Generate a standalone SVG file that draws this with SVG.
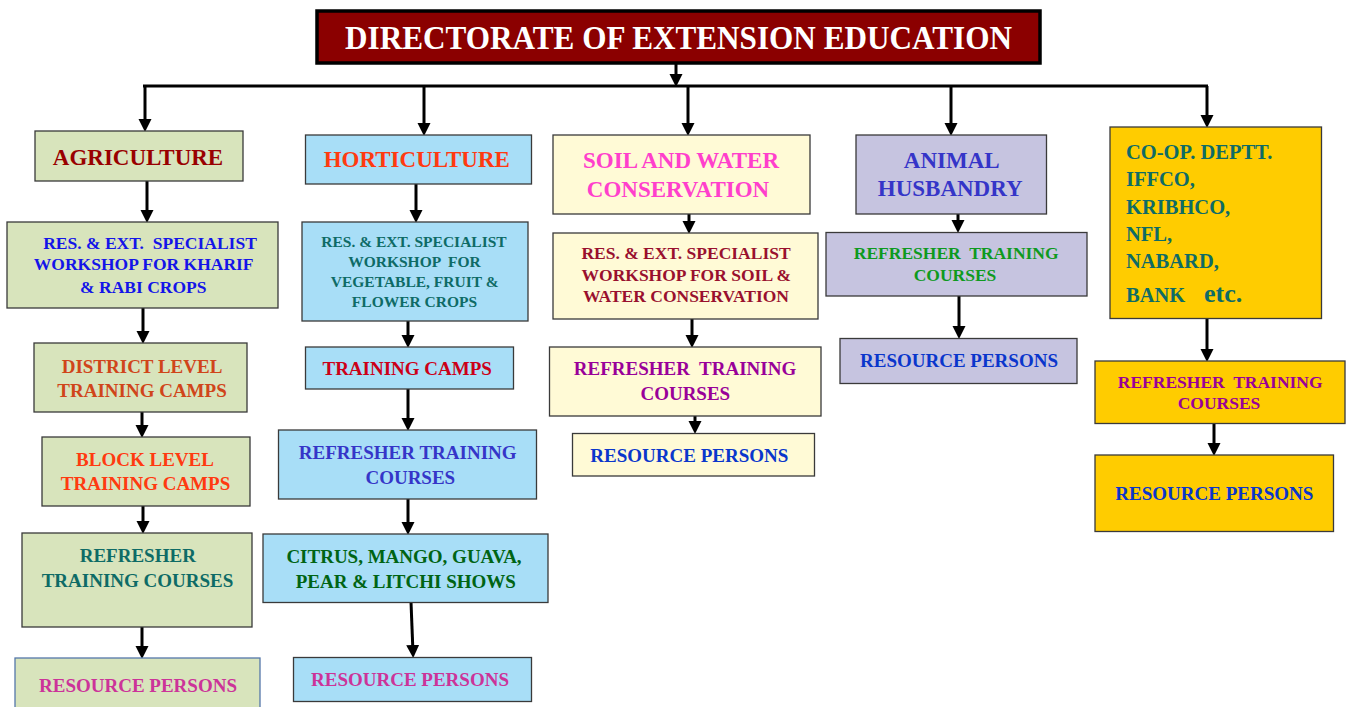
<svg xmlns="http://www.w3.org/2000/svg" width="1346" height="707" viewBox="0 0 1346 707">
  <defs>
    <marker id="arrow" markerUnits="userSpaceOnUse" markerWidth="14" markerHeight="14" refX="8" refY="6.5" orient="auto">
      <path d="M0,0 L13,6.5 L0,13 z" fill="#000"/>
    </marker>
    <style>
      text { font-family: "Liberation Serif", "Times New Roman", serif; font-weight: bold; text-anchor: middle; white-space: pre; }
      .box { stroke: #3a3a3a; stroke-width: 1.3; }
      .agri { fill: #D8E4BC; }
      .horti { fill: #A8DEF7; }
      .soil { fill: #FFFAD6; }
      .animal { fill: #C6C4E0; }
      .coop { fill: #FFCC00; }
      .conn path { stroke: #000; stroke-width: 3; fill: none; }
      .conn .arr { marker-end: url(#arrow); }
      .t23 { font-size: 23px; }
      .t19 { font-size: 19px; }
      .t17 { font-size: 17.5px; }
      .t15 { font-size: 15.5px; }
      .t20 { font-size: 20.5px; text-anchor: start; }
    </style>
  </defs>

  <rect width="1346" height="707" fill="#fff"/>

  <!-- connectors -->
  <g id="connectors" class="conn">
    <path d="M143,86 H1208"/>
    <path class="arr" d="M676,63 V82"/>
    <!-- branch drops -->
    <path class="arr" d="M145,86 V127"/>
    <path class="arr" d="M424,86 V131"/>
    <path class="arr" d="M688,86 V131"/>
    <path class="arr" d="M951,86 V131"/>
    <path class="arr" d="M1207,86 V123"/>
    <!-- agriculture column -->
    <path class="arr" d="M147,181 V218"/>
    <path class="arr" d="M143,308 V339"/>
    <path class="arr" d="M142,412 V433"/>
    <path class="arr" d="M143,506 V529"/>
    <path class="arr" d="M142,627 V654"/>
    <!-- horticulture column -->
    <path class="arr" d="M416,184 V218"/>
    <path class="arr" d="M408,321 V343"/>
    <path class="arr" d="M408,389 V426"/>
    <path class="arr" d="M408,499 V530"/>
    <path class="arr" d="M411,602 L413,653"/>
    <!-- soil and water column -->
    <path class="arr" d="M689,214 V229"/>
    <path class="arr" d="M692,319 V343"/>
    <path class="arr" d="M695,416 V429"/>
    <!-- animal husbandry column -->
    <path class="arr" d="M958,214 V228"/>
    <path class="arr" d="M959,296 V334"/>
    <!-- co-op column -->
    <path class="arr" d="M1207,318 V357"/>
    <path class="arr" d="M1214,423 V451"/>
  </g>

  <!-- head office -->
  <g id="directorate">
    <rect x="317" y="11" width="723" height="52" fill="#8B0000" stroke="#000" stroke-width="3.5"/>
    <text x="678.5" y="48.5" font-size="33" fill="#fff" textLength="667" lengthAdjust="spacingAndGlyphs">DIRECTORATE OF EXTENSION EDUCATION</text>
  </g>

  <!-- agriculture -->
  <g id="agriculture">
    <rect class="box agri" x="35" y="131" width="208" height="50"/>
    <text class="t23" x="138" y="164.5" fill="#990000">AGRICULTURE</text>
  </g>
  <g id="agri-workshop">
    <rect class="box agri" x="7" y="222" width="271" height="86"/>
    <text class="t17" fill="#1414E8"><tspan x="150" y="248.5">RES. &amp; EXT.  SPECIALIST</tspan><tspan x="143.7" y="270">WORKSHOP FOR KHARIF</tspan><tspan x="143.3" y="292.5">&amp; RABI CROPS</tspan></text>
  </g>
  <g id="agri-district">
    <rect class="box agri" x="34" y="343" width="213" height="69"/>
    <text class="t19" fill="#D0451A"><tspan x="142" y="372.5">DISTRICT LEVEL</tspan><tspan x="142" y="396.5">TRAINING CAMPS</tspan></text>
  </g>
  <g id="agri-block">
    <rect class="box agri" x="42" y="437" width="208" height="69"/>
    <text class="t19" fill="#FF3A10"><tspan x="145" y="465.5">BLOCK LEVEL</tspan><tspan x="145.5" y="489.5">TRAINING CAMPS</tspan></text>
  </g>
  <g id="agri-refresher">
    <rect class="box agri" x="22" y="533" width="230" height="94"/>
    <text class="t19" fill="#0E6B66"><tspan x="137.8" y="562">REFRESHER</tspan><tspan x="137.5" y="586.5">TRAINING COURSES</tspan></text>
  </g>
  <g id="agri-resource">
    <rect x="15" y="658" width="245" height="56" fill="#D8E4BC" stroke="#5577AA" stroke-width="1.3"/>
    <text class="t19" x="138" y="691.5" fill="#CC3399">RESOURCE PERSONS</text>
  </g>

  <!-- horticulture -->
  <g id="horticulture">
    <rect class="box horti" x="305.5" y="135" width="226" height="49"/>
    <text class="t23" x="416.8" y="167" fill="#FF3A10">HORTICULTURE</text>
  </g>
  <g id="horti-workshop">
    <rect class="box horti" x="302" y="222" width="226" height="99"/>
    <text class="t15" fill="#0E6B66"><tspan x="414" y="247">RES. &amp; EXT. SPECIALIST</tspan><tspan x="414.5" y="267">WORKSHOP  FOR</tspan><tspan x="414.7" y="287">VEGETABLE, FRUIT &amp;</tspan><tspan x="414.5" y="307">FLOWER CROPS</tspan></text>
  </g>
  <g id="horti-camps">
    <rect class="box horti" x="305.5" y="347" width="208" height="42"/>
    <text class="t19" x="407.2" y="374.5" fill="#CC0018">TRAINING CAMPS</text>
  </g>
  <g id="horti-refresher">
    <rect class="box horti" x="278.5" y="430" width="258" height="69"/>
    <text class="t19" fill="#3535C8"><tspan x="407.7" y="458.6">REFRESHER TRAINING</tspan><tspan x="410.3" y="483.6">COURSES</tspan></text>
  </g>
  <g id="horti-shows">
    <rect class="box horti" x="263" y="534" width="285" height="68.5"/>
    <text class="t19" fill="#006414"><tspan x="404" y="563">CITRUS, MANGO, GUAVA,</tspan><tspan x="405.8" y="587.5">PEAR &amp; LITCHI SHOWS</tspan></text>
  </g>
  <g id="horti-resource">
    <rect class="box horti" x="293.5" y="657.5" width="238" height="44"/>
    <text class="t19" x="410" y="685.5" fill="#CC3399">RESOURCE PERSONS</text>
  </g>

  <!-- soil and water conservation -->
  <g id="soil-water">
    <rect class="box soil" x="553" y="135" width="257" height="79"/>
    <text class="t23" fill="#FF3FCC"><tspan x="681" y="167.6">SOIL AND WATER</tspan><tspan x="678" y="197">CONSERVATION</tspan></text>
  </g>
  <g id="soil-workshop">
    <rect class="box soil" x="553" y="233" width="265" height="86"/>
    <text class="t17" fill="#99102E"><tspan x="686" y="259">RES. &amp; EXT. SPECIALIST</tspan><tspan x="686.3" y="280.7">WORKSHOP FOR SOIL &amp;</tspan><tspan x="686" y="302.4">WATER CONSERVATION</tspan></text>
  </g>
  <g id="soil-refresher">
    <rect class="box soil" x="549.5" y="347" width="271.5" height="69"/>
    <text class="t19" fill="#990099"><tspan x="685" y="374.6">REFRESHER  TRAINING</tspan><tspan x="685.3" y="400.3">COURSES</tspan></text>
  </g>
  <g id="soil-resource">
    <rect class="box soil" x="572.5" y="433.5" width="242" height="42.5"/>
    <text class="t19" x="689.3" y="462.3" fill="#0A36CC">RESOURCE PERSONS</text>
  </g>

  <!-- animal husbandry -->
  <g id="animal-husbandry">
    <rect class="box animal" x="856" y="135" width="190.5" height="79"/>
    <text class="t23" fill="#3535C8"><tspan x="951.7" y="167.6">ANIMAL</tspan><tspan x="950.2" y="196">HUSBANDRY</tspan></text>
  </g>
  <g id="animal-refresher">
    <rect class="box animal" x="826" y="232.5" width="261" height="63.5"/>
    <text class="t17" fill="#0E9A1E"><tspan x="956.2" y="259.2">REFRESHER  TRAINING</tspan><tspan x="955" y="280.8">COURSES</tspan></text>
  </g>
  <g id="animal-resource">
    <rect class="box animal" x="840" y="338.5" width="237" height="45"/>
    <text class="t19" x="959" y="367.3" fill="#0A36CC">RESOURCE PERSONS</text>
  </g>

  <!-- co-operative and allied agencies -->
  <g id="coop-agencies">
    <rect class="box coop" x="1110" y="127" width="211.5" height="191.5"/>
    <text class="t20" fill="#0E6B66"><tspan x="1126" y="158.5">CO-OP. DEPTT.</tspan><tspan x="1126" y="186">IFFCO,</tspan><tspan x="1126" y="214">KRIBHCO,</tspan><tspan x="1126" y="241">NFL,</tspan><tspan x="1126" y="268">NABARD,</tspan><tspan x="1126" y="302">BANK</tspan><tspan x="1204" y="302" font-size="26">etc.</tspan></text>
  </g>
  <g id="coop-refresher">
    <rect class="box coop" x="1095" y="361" width="250" height="62.5"/>
    <text class="t17" fill="#990099"><tspan x="1220.2" y="387.5">REFRESHER  TRAINING</tspan><tspan x="1219" y="408.5">COURSES</tspan></text>
  </g>
  <g id="coop-resource">
    <rect class="box coop" x="1095" y="455" width="238.5" height="76.5"/>
    <text class="t19" x="1214.3" y="499.6" fill="#0A36CC">RESOURCE PERSONS</text>
  </g>
</svg>
